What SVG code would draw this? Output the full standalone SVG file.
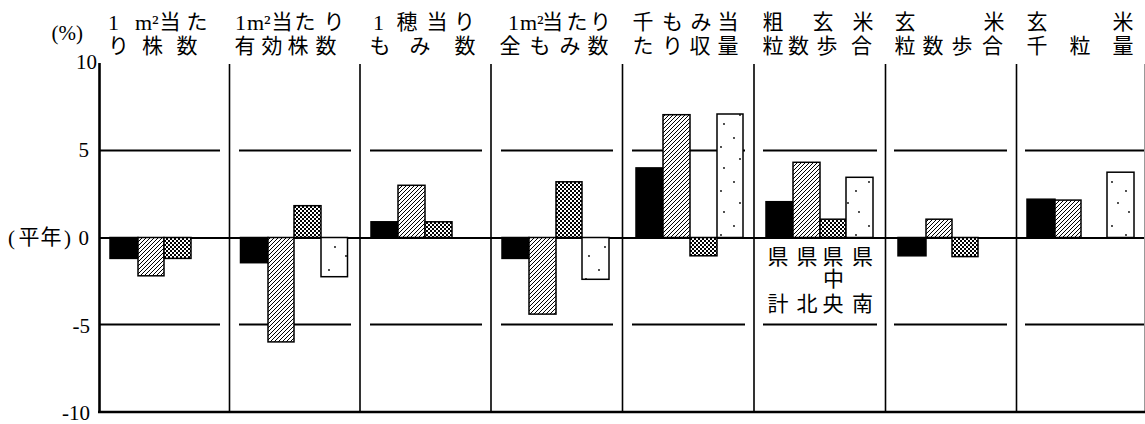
<svg xmlns="http://www.w3.org/2000/svg" width="1145" height="424" viewBox="0 0 1145 424">
<style>
.jp{font-family:"Noto Sans CJK JP","Noto Sans",sans-serif;font-size:21px;fill:#000;text-anchor:middle}
.sr{font-family:"Liberation Serif","Times New Roman",serif;font-size:22px;fill:#000}
.num{font-family:"Liberation Serif","Times New Roman",serif;font-size:21px;fill:#000;text-anchor:end}
.grid{stroke:#000;stroke-width:2;fill:none}
.div{stroke:#000;stroke-width:1.6;fill:none}
.bar{stroke:#000;stroke-width:1.5}
</style>
<defs>
<pattern id="hatch" patternUnits="userSpaceOnUse" width="4" height="4">
<rect width="4" height="4" fill="#fff"/>
<path d="M-1,1 L1,-1 M0,4 L4,0 M3,5 L5,3" stroke="#000" stroke-width="1"/>
</pattern>
<pattern id="cross" patternUnits="userSpaceOnUse" width="4" height="4">
<rect width="4" height="4" fill="#fff"/>
<rect width="2" height="2" fill="#000"/>
<rect x="2" y="2" width="2" height="2" fill="#000"/>
</pattern>
<pattern id="dots" patternUnits="userSpaceOnUse" width="27" height="44">
<rect width="27" height="44" fill="#fff"/>
<circle cx="5" cy="6" r="0.9" fill="#000"/>
<circle cx="19" cy="15" r="0.9" fill="#000"/>
<circle cx="11" cy="27" r="0.9" fill="#000"/>
<circle cx="22" cy="36" r="0.9" fill="#000"/>
</pattern>
</defs>

<g id="gridlines">
<path class="grid" d="M100,150.5H220 M239,150.5H351 M370,150.5H482 M501,150.5H613 M632,150.5H745 M763,150.5H877 M894,150.5H1007 M1025,150.5H1145"/>
<path class="grid" d="M100,324.5H220 M239,324.5H351 M370,324.5H482 M501,324.5H613 M632,324.5H745 M763,324.5H877 M894,324.5H1007 M1025,324.5H1145"/>
<path class="grid" d="M99,238H1145"/>
</g>

<g id="bars">
<g id="panel1">
<rect class="bar" x="110" y="237.5" width="28" height="20.9" fill="#000"/>
<rect class="bar" x="138" y="237.5" width="26" height="38.3" fill="url(#hatch)"/>
<rect class="bar" x="164" y="237.5" width="27" height="20.9" fill="url(#cross)"/>
</g>
<g id="panel2">
<rect class="bar" x="240.5" y="237.5" width="27.5" height="25.2" fill="#000"/>
<rect class="bar" x="268" y="237.5" width="26" height="104.4" fill="url(#hatch)"/>
<rect class="bar" x="294" y="205.7" width="27" height="31.8" fill="url(#cross)"/>
<rect class="bar" x="321" y="237.5" width="26.5" height="39.2" fill="url(#dots)"/>
</g>
<g id="panel3">
<rect class="bar" x="371" y="221.8" width="27" height="15.7" fill="#000"/>
<rect class="bar" x="398" y="185.3" width="27" height="52.2" fill="url(#hatch)"/>
<rect class="bar" x="425" y="221.8" width="27" height="15.7" fill="url(#cross)"/>
</g>
<g id="panel4">
<rect class="bar" x="502" y="237.5" width="27" height="20.9" fill="#000"/>
<rect class="bar" x="529" y="237.5" width="27" height="76.6" fill="url(#hatch)"/>
<rect class="bar" x="556" y="181.8" width="26" height="55.7" fill="url(#cross)"/>
<rect class="bar" x="582" y="237.5" width="27" height="41.8" fill="url(#dots)"/>
</g>
<g id="panel5">
<rect class="bar" x="636" y="167.9" width="27" height="69.6" fill="#000"/>
<rect class="bar" x="663" y="114.7" width="27" height="122.8" fill="url(#hatch)"/>
<rect class="bar" x="690" y="237.5" width="27" height="18.3" fill="url(#cross)"/>
<rect class="bar" x="717" y="114" width="26" height="123.5" fill="url(#dots)"/>
</g>
<g id="panel6">
<rect class="bar" x="766" y="201.7" width="27" height="35.8" fill="#000"/>
<rect class="bar" x="793" y="162.3" width="27" height="75.2" fill="url(#hatch)"/>
<rect class="bar" x="820" y="219.2" width="26" height="18.3" fill="url(#cross)"/>
<rect class="bar" x="846" y="177.3" width="27" height="60.2" fill="url(#dots)"/>
</g>
<g id="panel7">
<rect class="bar" x="898" y="237.5" width="28" height="18.3" fill="#000"/>
<rect class="bar" x="926" y="219.2" width="26" height="18.3" fill="url(#hatch)"/>
<rect class="bar" x="952" y="237.5" width="26" height="19.1" fill="url(#cross)"/>
</g>
<g id="panel8">
<rect class="bar" x="1027" y="199.2" width="28" height="38.3" fill="#000"/>
<rect class="bar" x="1055" y="200.1" width="26" height="37.4" fill="url(#hatch)"/>
<rect class="bar" x="1107" y="172.2" width="27" height="65.3" fill="url(#dots)"/>
</g>
</g>

<g id="axes">
<path class="div" d="M229.5,64V412 M360,64V412 M491,64V412 M622.5,64V412 M754,64V412 M885.5,64V412 M1016.5,64V412"/>
<path d="M1144.5,64V412" stroke="#999" stroke-width="1"/>
<path d="M99.5,63V413" stroke="#000" stroke-width="2.6"/>
<path d="M98,412H1145" stroke="#000" stroke-width="2.6"/>
</g>

<g id="y-labels">
<text class="num" x="83" y="40" font-size="20">(%)</text>
<text class="num" x="97" y="69">10</text>
<text class="num" x="89" y="157">5</text>
<text class="num" x="15" y="245">(</text>
<text class="jp" x="29" y="244">平</text>
<text class="jp" x="51" y="244">年</text>
<text class="num" x="71" y="245">)</text>
<text class="num" x="89" y="245">0</text>
<text class="num" x="90" y="333">-5</text>
<text class="num" x="90" y="420">-10</text>
</g>

<g id="headers">
<g id="h1">
<text class="sr" x="108" y="30">1</text>
<text class="sr" x="135" y="30">m²</text>
<text class="jp" x="170" y="29">当</text>
<text class="jp" x="197" y="29">た</text>
<text class="jp" x="118.5" y="53">り</text>
<text class="jp" x="152.5" y="53">株</text>
<text class="jp" x="187" y="53">数</text>
</g>
<g id="h2">
<text class="sr" x="235" y="30">1</text>
<text class="sr" x="247" y="30">m²</text>
<text class="jp" x="282" y="29">当</text>
<text class="jp" x="305" y="29">た</text>
<text class="jp" x="334" y="29">り</text>
<text class="jp" x="245" y="53">有</text>
<text class="jp" x="272" y="53">効</text>
<text class="jp" x="298" y="53">株</text>
<text class="jp" x="326" y="53">数</text>
</g>
<g id="h3">
<text class="sr" x="373" y="30">1</text>
<text class="jp" x="407" y="29">穂</text>
<text class="jp" x="437" y="29">当</text>
<text class="jp" x="464.5" y="29">り</text>
<text class="jp" x="380" y="53">も</text>
<text class="jp" x="420" y="53">み</text>
<text class="jp" x="465" y="53">数</text>
</g>
<g id="h4">
<text class="sr" x="508" y="30">1</text>
<text class="sr" x="520" y="30">m²</text>
<text class="jp" x="552.5" y="29">当</text>
<text class="jp" x="577" y="29">た</text>
<text class="jp" x="600.5" y="29">り</text>
<text class="jp" x="510" y="53">全</text>
<text class="jp" x="540" y="53">も</text>
<text class="jp" x="570" y="53">み</text>
<text class="jp" x="598" y="53">数</text>
</g>
<g id="h5">
<text class="jp" x="643" y="29">千</text>
<text class="jp" x="672.5" y="29">も</text>
<text class="jp" x="701" y="29">み</text>
<text class="jp" x="728" y="29">当</text>
<text class="jp" x="643" y="53">た</text>
<text class="jp" x="672.5" y="53">り</text>
<text class="jp" x="700" y="53">収</text>
<text class="jp" x="728" y="53">量</text>
</g>
<g id="h6">
<text class="jp" x="773" y="29">粗</text>
<text class="jp" x="823" y="29">玄</text>
<text class="jp" x="863" y="29">米</text>
<text class="jp" x="773" y="53">粒</text>
<text class="jp" x="798.5" y="53">数</text>
<text class="jp" x="827" y="53">歩</text>
<text class="jp" x="861.5" y="53">合</text>
</g>
<g id="h7">
<text class="jp" x="905" y="29">玄</text>
<text class="jp" x="994" y="29">米</text>
<text class="jp" x="905" y="53">粒</text>
<text class="jp" x="933" y="53">数</text>
<text class="jp" x="962" y="53">歩</text>
<text class="jp" x="992.5" y="53">合</text>
</g>
<g id="h8">
<text class="jp" x="1037" y="29">玄</text>
<text class="jp" x="1123" y="29">米</text>
<text class="jp" x="1037" y="53">千</text>
<text class="jp" x="1080" y="53">粒</text>
<text class="jp" x="1123" y="53">量</text>
</g>
</g>

<g id="legend">
<text class="jp" x="778" y="264">県</text>
<text class="jp" x="807" y="264">県</text>
<text class="jp" x="833" y="264">県</text>
<text class="jp" x="862.5" y="264">県</text>
<text class="jp" x="833.5" y="286" font-size="15">中</text>
<text class="jp" x="778" y="311">計</text>
<text class="jp" x="807" y="311">北</text>
<text class="jp" x="833" y="311">央</text>
<text class="jp" x="862.5" y="311">南</text>
</g>
</svg>
